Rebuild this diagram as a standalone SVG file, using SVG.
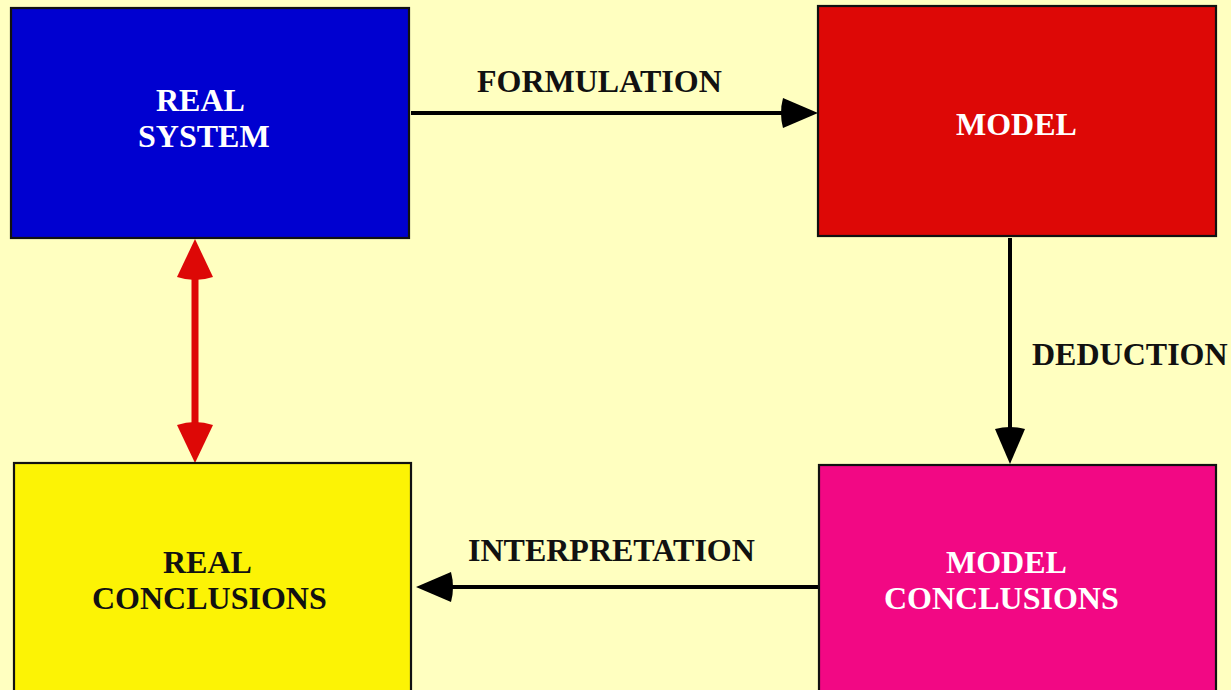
<svg xmlns="http://www.w3.org/2000/svg" xmlns:xlink="http://www.w3.org/1999/xlink" width="1231" height="690" viewBox="0 0 1231 690">
<style>
.box{stroke:#111;stroke-width:2.2}
.t{font-family:"Liberation Serif","Times New Roman",serif;font-weight:bold;font-size:32px}
.w{fill:#fff}
.k{fill:#111}
.ln{stroke:#000;stroke-width:4;fill:none}
.rl{stroke:#dd0806;stroke-width:7;fill:none}
</style>
<defs>
<path id="hb" d="M0,0 L-35,-15 Q-39,0 -35,15 Z" fill="#000"/>
<path id="hr" d="M0,0 L-38,-18 Q-44,0 -38,18 Z" fill="#dd0806"/>
</defs>
<rect x="0" y="0" width="1231" height="690" fill="#ffffc0"/>
<g id="connectors">
<path class="ln" d="M411,113 H790"/>
<use xlink:href="#hb" transform="translate(818,113)"/>
<path class="ln" d="M1010,238 V438"/>
<use xlink:href="#hb" transform="translate(1010,464) rotate(90)"/>
<path class="ln" d="M822,587 H444"/>
<use xlink:href="#hb" transform="translate(416,587) rotate(180)"/>
<path class="rl" d="M195,270 V432"/>
<use xlink:href="#hr" transform="translate(195,239) rotate(-90)"/>
<use xlink:href="#hr" transform="translate(195,463) rotate(90)"/>
<text class="t k" x="477" y="92">FORMULATION</text>
<text class="t k" x="1032" y="365">DEDUCTION</text>
<text class="t k" x="468" y="561">INTERPRETATION</text>
</g>
<g id="real-system">
<rect class="box" x="11" y="8" width="398" height="230" fill="#0000d0"/>
<text class="t w" x="156" y="111">REAL</text>
<text class="t w" x="138" y="147">SYSTEM</text>
</g>
<g id="model">
<rect class="box" x="818" y="6" width="398" height="230" fill="#dd0806"/>
<text class="t w" x="956" y="135">MODEL</text>
</g>
<g id="real-conclusions">
<rect class="box" x="14" y="463" width="397" height="240" fill="#fcf305"/>
<text class="t k" x="163" y="573">REAL</text>
<text class="t k" x="92" y="609">CONCLUSIONS</text>
</g>
<g id="model-conclusions">
<rect class="box" x="819" y="465" width="397" height="240" fill="#f20884"/>
<text class="t w" x="946" y="573">MODEL</text>
<text class="t w" x="884" y="609">CONCLUSIONS</text>
</g>
</svg>
